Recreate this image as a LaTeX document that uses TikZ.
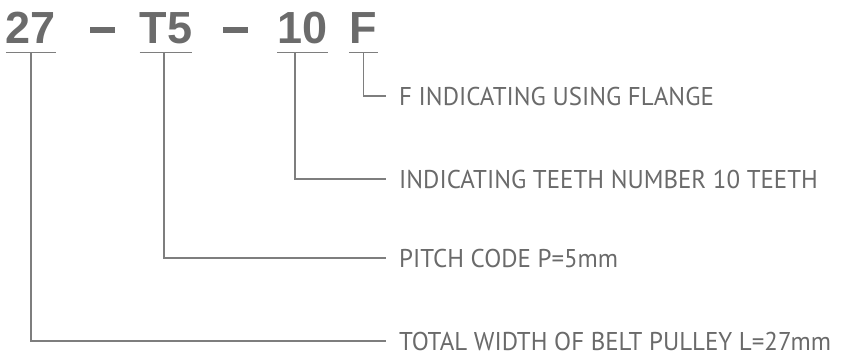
\documentclass[tikz,border=0pt]{standalone}
\usepackage{fontspec}
\setmainfont[FakeStretch=0.97]{PT Sans}
\newfontfamily\codefont{Liberation Sans}
\usetikzlibrary{positioning,calc}
\definecolor{codegray}{HTML}{6B6B6B}
\definecolor{linegray}{HTML}{7E7E7E}
\definecolor{notegray}{HTML}{6A6A6A}

\begin{document}
\begin{tikzpicture}[x=1pt,y=-1pt,
  code/.style={anchor=base,inner xsep=0pt,inner ysep=9pt,text=codegray,
    font=\codefont\bfseries\fontsize{45}{50}\selectfont},
  bar/.style={fill=codegray,inner sep=0pt,minimum width=25pt,minimum height=6pt},
  note/.style={anchor=west,inner xsep=13pt,inner ysep=0pt,text height=18pt,text depth=0pt,
    text=notegray,font=\fontsize{25.7}{30}\selectfont},
  lead/.style={draw=linegray,line width=1.2pt}]
\useasboundingbox (0,0) rectangle (843,354);
\node[code,minimum width=48pt] (wid) at (31,43) {27};
\node[bar] (dsh1) at (102.5,30) {};
\node[code,minimum width=48pt] (pit) at (166,43) {T5};
\node[bar] (dsh2) at (235.5,30) {};
\node[code,minimum width=45pt] (tth) at (302.5,43) {10};
\node[code,minimum width=29pt] (flg) at (363.5,43) {F};
\node[note] (flgn) at (386,96) {F INDICATING USING FLANGE};
\node[note] (tthn) at (386,179) {INDICATING TEETH NUMBER 10 TEETH};
\node[note] (pitn) at (386,258) {PITCH CODE P=5mm};
\node[note] (widn) at (386,341) {TOTAL WIDTH OF BELT PULLEY L=27mm};
\foreach \n in {wid,pit,tth,flg} \draw[lead] (\n.south west) -- (\n.south east);
\draw[lead] (flg.south) |- (flgn.west);
\draw[lead] ([xshift=-7.5pt]tth.south) |- (tthn.west);
\draw[lead] ([xshift=-2pt]pit.south) |- (pitn.west);
\draw[lead] (wid.south) |- (widn.west);
\end{tikzpicture}
\end{document}
